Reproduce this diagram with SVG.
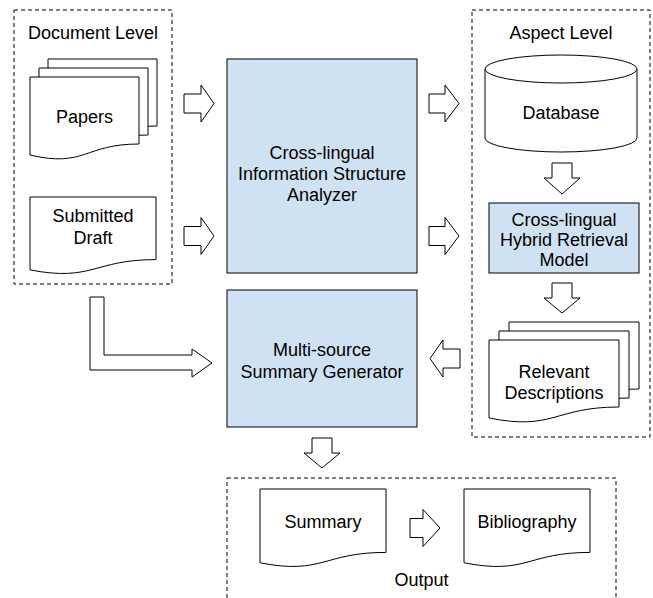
<svg xmlns="http://www.w3.org/2000/svg" width="653" height="598" viewBox="0 0 653 598">
<style>
.bg{fill:#ffffff}
.frame{fill:none;stroke:#000;stroke-width:1;stroke-dasharray:4,3}
.proc{fill:#cfe2f3;stroke:#000;stroke-width:1}
.doc{fill:#ffffff;stroke:#000;stroke-width:1}
.arrow{fill:#ffffff;stroke:#000;stroke-width:1;stroke-linejoin:miter}
text{font-family:"Liberation Sans",Arial,sans-serif;font-size:18px;fill:#000;text-anchor:middle}
</style>
<rect class="bg" x="0" y="0" width="653" height="598"/>

<g id="document-level">
  <rect class="frame" x="14" y="10" width="158" height="274"/>
  <text x="93" y="39">Document Level</text>
</g>
<g id="aspect-level">
  <rect class="frame" x="472" y="10" width="178" height="427"/>
  <text x="561" y="39">Aspect Level</text>
</g>
<g id="output">
  <rect class="frame" x="227" y="478" width="389" height="140"/>
  <text x="421.5" y="586">Output</text>
</g>

<g id="papers">
  <path class="doc" d="M48,59 H157 V126 C102.5,126 102.5,150 48,137 Z"/>
  <path class="doc" d="M39,68 H148 V135 C93.5,135 93.5,159 39,146 Z"/>
  <path class="doc" d="M30,77 H139 V144 C84.5,144 84.5,168 30,155 Z"/>
  <text x="84.5" y="123">Papers</text>
</g>
<g id="submitted-draft">
  <path class="doc" d="M30,197 H156 V259.6 C93,259.6 93,282 30,269.9 Z"/>
  <text x="93" y="222">Submitted</text>
  <text x="93" y="244">Draft</text>
</g>

<g id="analyzer">
  <rect class="proc" x="227" y="59" width="190" height="214"/>
  <text x="322" y="159">Cross-lingual</text>
  <text x="322" y="180">Information Structure</text>
  <text x="322" y="201">Analyzer</text>
</g>

<g id="generator">
  <rect class="proc" x="227" y="290" width="190" height="137"/>
  <text x="322" y="356">Multi-source</text>
  <text x="322" y="378">Summary Generator</text>
</g>

<g id="database">
  <path class="doc" d="M485,69 V138 A76,14 0 0 0 637,138 V69"/>
  <ellipse class="doc" cx="561" cy="69" rx="76" ry="14"/>
  <text x="561" y="119">Database</text>
</g>

<g id="hybrid-retrieval">
  <rect class="proc" x="489" y="203" width="150" height="70"/>
  <text x="564" y="226">Cross-lingual</text>
  <text x="564" y="246">Hybrid Retrieval</text>
  <text x="564" y="266">Model</text>
</g>

<g id="relevant-descriptions">
  <path class="doc" d="M509,322 H639 V389 C574,389 574,413 509,400 Z"/>
  <path class="doc" d="M499,331 H629 V398 C564,398 564,422 499,409 Z"/>
  <path class="doc" d="M489,340 H619 V407 C554,407 554,431 489,418 Z"/>
  <text x="554" y="378">Relevant</text>
  <text x="554" y="399">Descriptions</text>
</g>

<g id="summary">
  <path class="doc" d="M260,489 H386 V552.4 C323,552.4 323,575.1 260,562.8 Z"/>
  <text x="323" y="528">Summary</text>
</g>
<g id="bibliography">
  <path class="doc" d="M464,489 H590 V552.4 C527,552.4 527,575.1 464,562.8 Z"/>
  <text x="527" y="528">Bibliography</text>
</g>

<g id="connectors">
  <polygon class="arrow" points="184,94 201,94 201,85 214,103.5 201,122 201,113 184,113"/>
  <polygon class="arrow" points="184,226.5 201,226.5 201,217.5 214,236 201,254.5 201,245.5 184,245.5"/>
  <polygon class="arrow" points="429,94 445,94 445,85 459,103.5 445,122 445,113 429,113"/>
  <polygon class="arrow" points="429,226.5 445,226.5 445,217.5 459,236 445,254.5 445,245.5 429,245.5"/>
  <polygon class="arrow" points="460,349 443,349 443,340 430,358.5 443,377 443,368 460,368"/>
  <polygon class="arrow" points="552,163 572,163 572,178 580,178 562,194 544,178 552,178"/>
  <polygon class="arrow" points="552,283 572,283 572,298 580,298 562,313 544,298 552,298"/>
  <polygon class="arrow" points="312,438 332,438 332,453 340,453 322,468 304,453 312,453"/>
  <polygon class="arrow" points="410,518.5 423,518.5 423,509.5 440,528 423,546.5 423,537.5 410,537.5"/>
  <polygon class="arrow" points="90,297 104,297 104,355 192,355 192,349 212,363 192,377 192,370 90,370"/>
</g>
</svg>
